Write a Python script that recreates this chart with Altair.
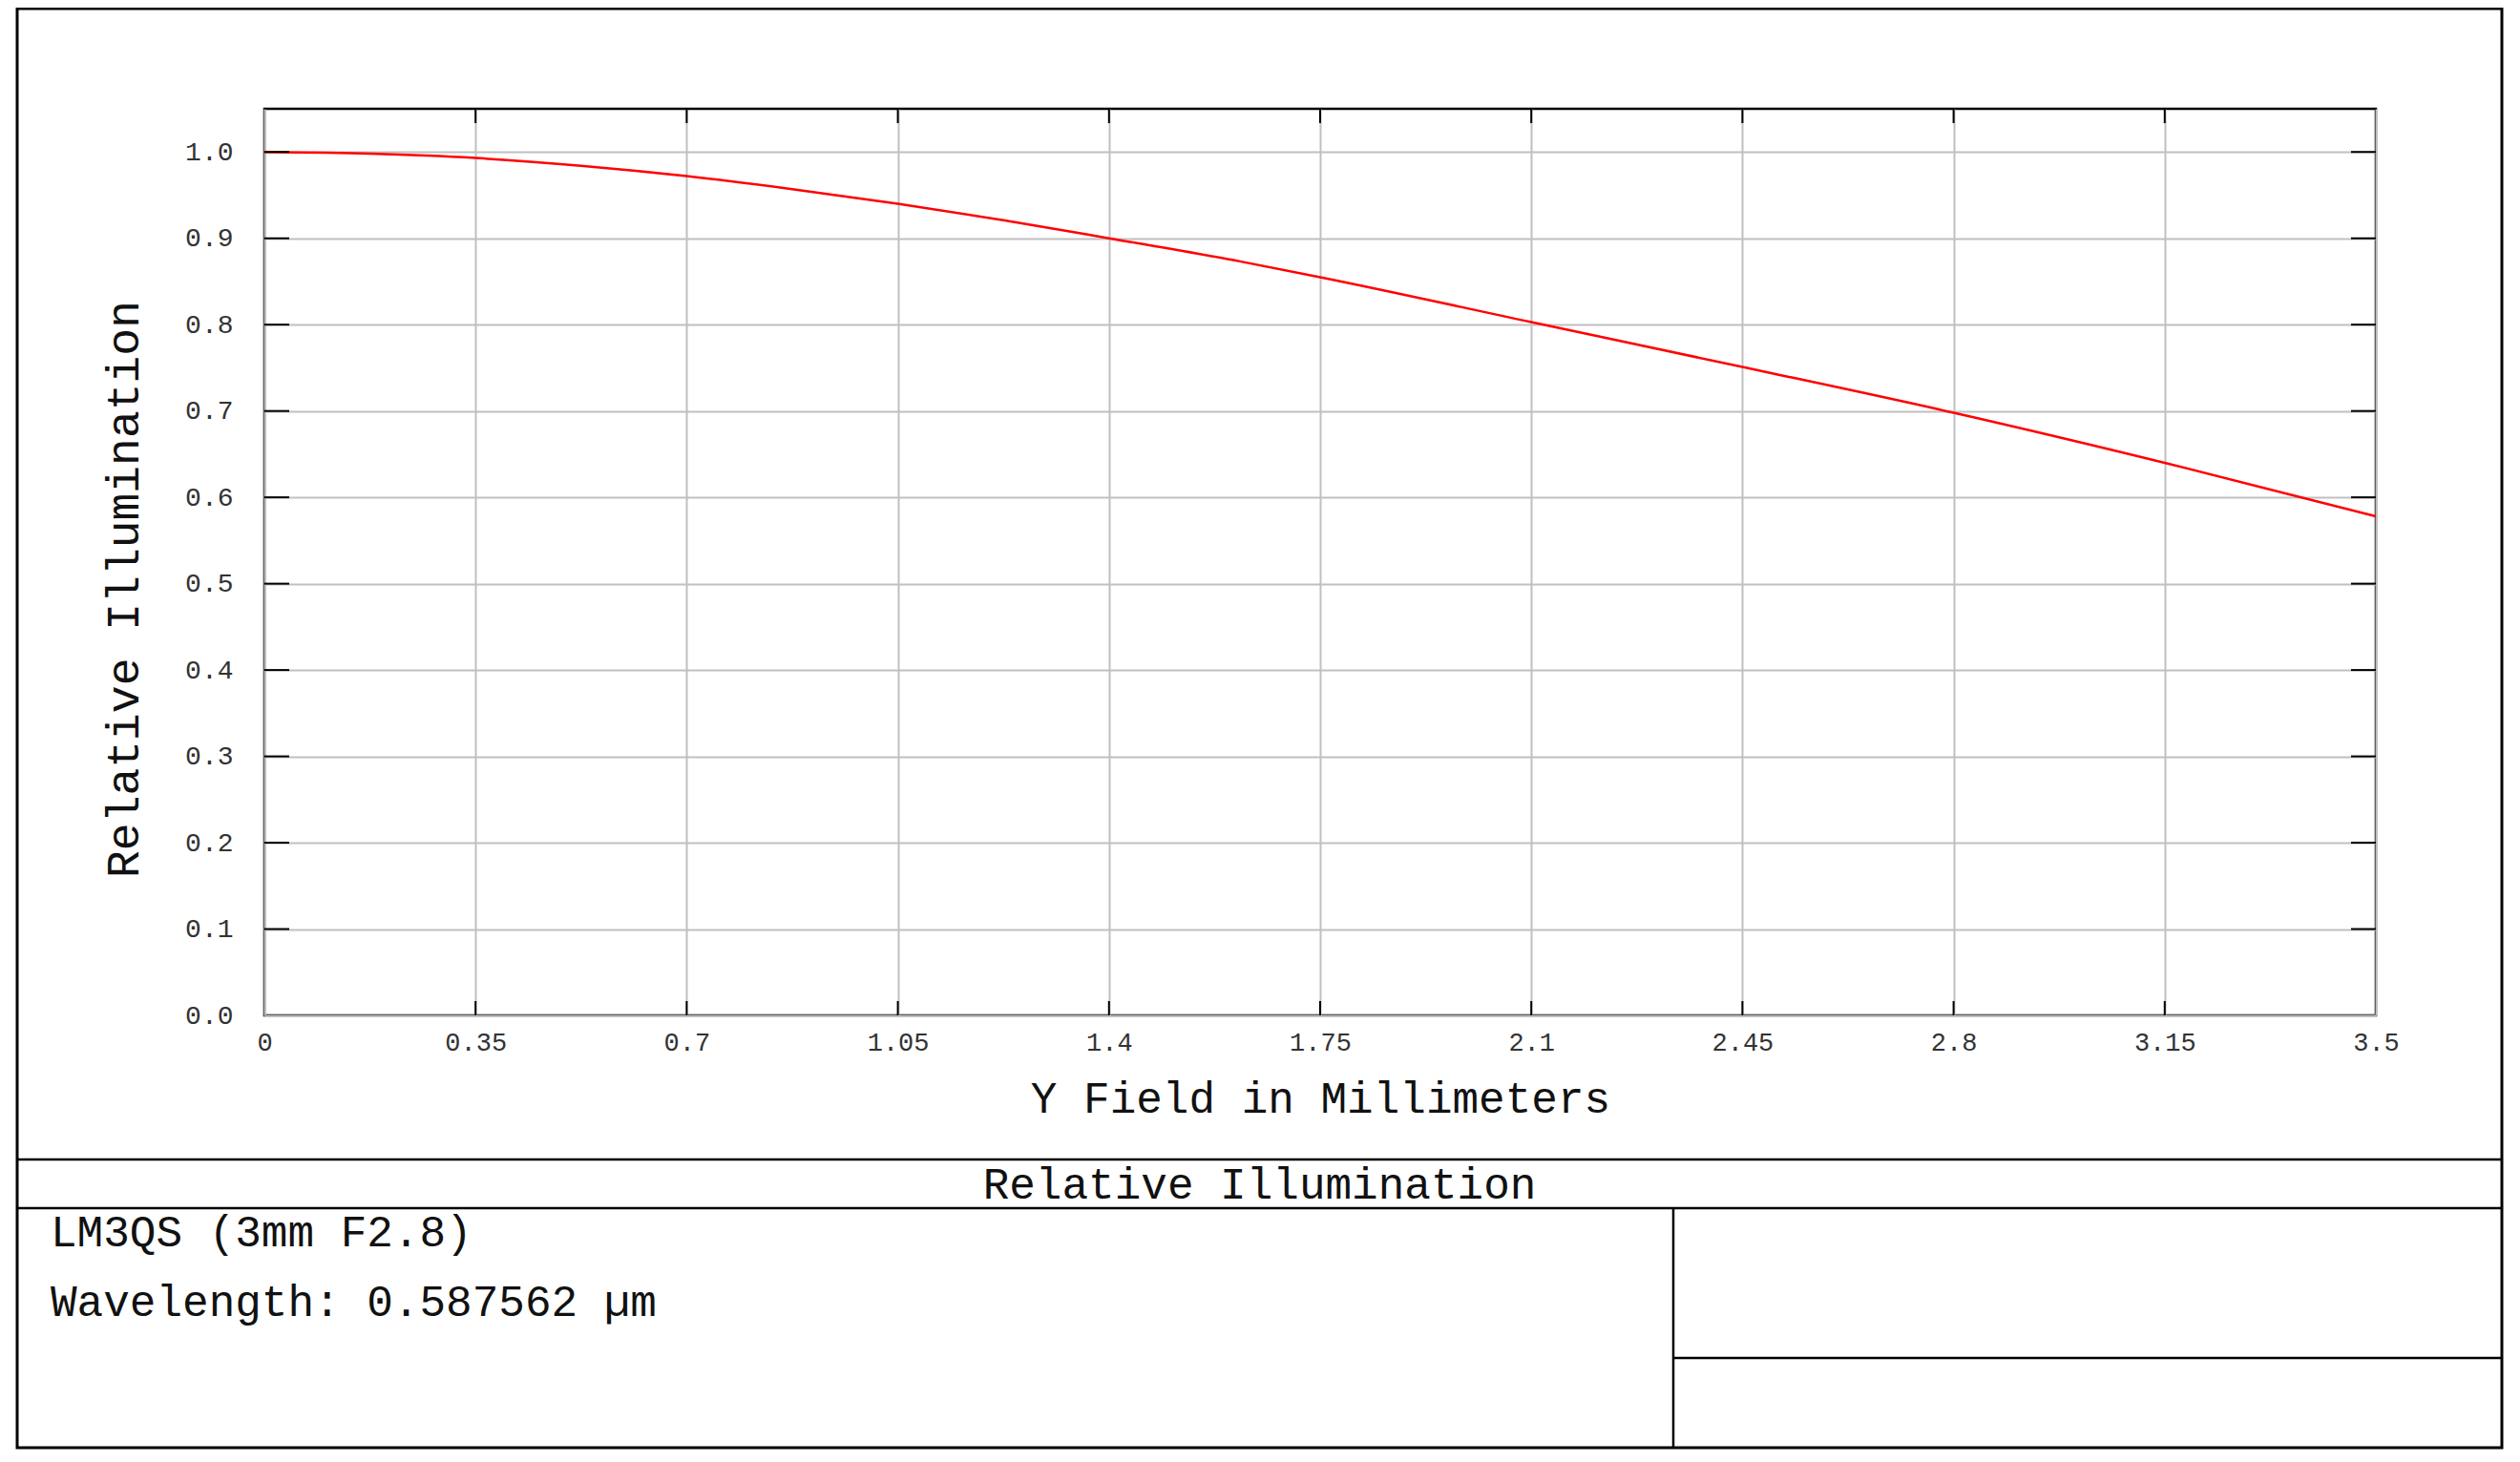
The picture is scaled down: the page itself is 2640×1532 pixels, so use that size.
import altair as alt
import pandas as pd

# ---- data ----
field_mm = [0.0, 0.175, 0.35, 0.525, 0.7, 0.875, 1.05, 1.225, 1.4, 1.619, 1.75, 2.1, 2.45, 2.8, 3.15, 3.5]
rel_illum = [1.000, 0.998, 0.993, 0.984, 0.972, 0.957, 0.940, 0.921, 0.900, 0.873, 0.855, 0.803, 0.751, 0.698, 0.640, 0.578]

x_tick_values = [0, 0.35, 0.7, 1.05, 1.4, 1.75, 2.1, 2.45, 2.8, 3.15, 3.5]
y_tick_values = [0.0, 0.1, 0.2, 0.3, 0.4, 0.5, 0.6, 0.7, 0.8, 0.9, 1.0]

chart_title = "Relative Illumination"
x_title = "Y Field in Millimeters"
y_title = "Relative Illumination"
info_lines = ["LM3QS (3mm F2.8)", "Wavelength: 0.587562 µm"]

# ---- layout ----
FONT = "Liberation Mono"
W, H = 2212, 950

curve = pd.DataFrame({"x": field_mm, "y": rel_illum})
xt = pd.DataFrame({"x": x_tick_values[1:-1]})
yt = pd.DataFrame({"y": y_tick_values[1:]})
one = pd.DataFrame({"k": [0]})

xscale = alt.Scale(domain=[0, 3.5], nice=False, zero=False)
yscale = alt.Scale(domain=[0, 1.05], nice=False, zero=False)

x_axis = alt.Axis(
    values=x_tick_values, format=".3~g", title=x_title,
    grid=True, gridColor="#c0c0c0", gridWidth=2, ticks=False, domain=False,
    labelFont=FONT, labelFontSize=27, labelColor="#333", labelPadding=15,
    labelFlush=False, labelOverlap=False,
    titleFont=FONT, titleFontSize=46, titleFontWeight="normal", titleColor="#111",
    titleX=W / 2, titleY=101, titleAlign="center", titleBaseline="alphabetic",
)
y_axis = alt.Axis(
    values=y_tick_values, format=".1f", title=y_title,
    grid=True, gridColor="#c0c0c0", gridWidth=2, ticks=False, domain=False,
    labelFont=FONT, labelFontSize=28, labelColor="#333", labelPadding=33,
    labelFlush=False, labelOverlap=False,
    titleFont=FONT, titleFontSize=48, titleFontWeight="normal", titleColor="#111",
    titleAngle=270, titleX=-133, titleY=503, titleAlign="center", titleBaseline="alphabetic",
)

x_enc = alt.X("x:Q", scale=xscale, axis=x_axis)
y_enc = alt.Y("y:Q", scale=yscale, axis=y_axis)

line = alt.Chart(curve).mark_line(color="#ff0000", strokeWidth=2.5, interpolate="monotone").encode(
    x=x_enc, y=y_enc
)

tick_style = dict(color="black", strokeWidth=2)
top_ticks = alt.Chart(xt).mark_rule(**tick_style).encode(x=x_enc, y=alt.value(0), y2=alt.value(15))
bottom_ticks = alt.Chart(xt).mark_rule(**tick_style).encode(x=x_enc, y=alt.value(H - 15), y2=alt.value(H))
left_ticks = alt.Chart(yt).mark_rule(**tick_style).encode(y=y_enc, x=alt.value(0), x2=alt.value(26))
right_ticks = alt.Chart(yt).mark_rule(**tick_style).encode(y=y_enc, x=alt.value(W - 26), x2=alt.value(W))

# ---- frame and info block (pixel positions relative to the plot area) ----
L, R, T, B = -259, 2344, -105, 1403
border = alt.Chart(one).mark_rect(fillOpacity=0, stroke="black", strokeWidth=3).encode(
    x=alt.value(L), x2=alt.value(R), y=alt.value(T), y2=alt.value(B)
)

def hrule(y, x1, x2):
    return alt.Chart(one).mark_rule(color="black", strokeWidth=2.5).encode(
        x=alt.value(x1), x2=alt.value(x2), y=alt.value(y)
    )

def vrule(x, y1, y2):
    return alt.Chart(one).mark_rule(color="black", strokeWidth=2.5).encode(
        x=alt.value(x), y=alt.value(y1), y2=alt.value(y2)
    )

sep1 = hrule(1101, L, R)
sep2 = hrule(1152, L, R)
vdiv = vrule(1476, 1152, B)
rbox = hrule(1309, 1476, R)

def label(text, x, y, align="left", size=46):
    return alt.Chart(one).mark_text(
        align=align, baseline="alphabetic", font=FONT, fontSize=size, color="#111"
    ).encode(x=alt.value(x), y=alt.value(y), text=alt.value(text))

title_txt = label(chart_title, (L + R) / 2, 1142, align="center")
info1 = label(info_lines[0], -224, 1192)
info2 = label(info_lines[1], -224, 1265)

chart = alt.layer(
    line, top_ticks, bottom_ticks, left_ticks, right_ticks,
    border, sep1, sep2, vdiv, rbox, title_txt, info1, info2,
).properties(
    width=W, height=H,
    padding={"left": 269, "top": 106, "right": 140, "bottom": 455},
    autosize=alt.AutoSizeParams(type="none"),
    background="white",
).configure_view(stroke="black", strokeWidth=2.5)

chart.save("out.html", embed_options={"renderer": "svg", "actions": False})
